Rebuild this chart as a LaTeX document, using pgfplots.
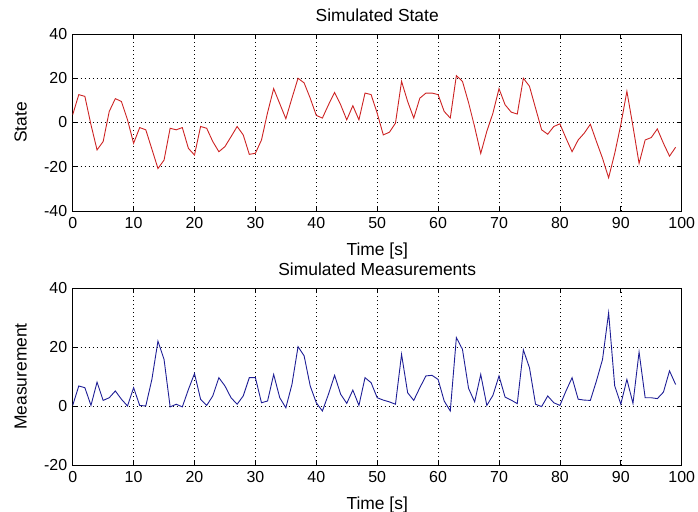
\documentclass[border=0pt]{standalone}
\usepackage{fontspec}
\setmainfont{Liberation Sans}
\usepackage{pgfplots}
\pgfplotsset{compat=1.18}
\definecolor{mred}{RGB}{205,35,35}
\definecolor{mblue}{RGB}{30,30,150}

\pgfplotstableread{
t state
0 3.5
1 12.6
2 11.8
3 -1
4 -12.4
5 -8.6
6 5
7 10.8
8 9.5
9 1.2
10 -9.4
11 -2.3
12 -3.3
13 -12
14 -20.8
15 -17
16 -2.6
17 -3.3
18 -2.3
19 -11.7
20 -14.7
21 -1.8
22 -2.6
23 -8.6
24 -13.2
25 -10.9
26 -6.4
27 -1.8
28 -5.6
29 -14.4
30 -13.9
31 -7.9
32 4.5
33 15.3
34 8.5
35 1.7
36 11
37 20
38 17.9
39 11
40 3.2
41 2
42 8
43 13.6
44 8
45 1.2
46 7.6
47 1.2
48 13.3
49 12.6
50 4.2
51 -5.6
52 -4.4
53 -0.3
54 18.6
55 9.5
56 2
57 11
58 13.3
59 13.3
60 12.6
61 5
62 2
63 21.2
64 18.6
65 9
66 -2
67 -14
68 -4
69 4.2
70 15.3
71 8
72 4.7
73 3.8
74 20
75 16.4
76 6.5
77 -3.3
78 -5.3
79 -1.8
80 -0.6
81 -7.1
82 -13.2
83 -7.9
84 -4.8
85 -0.8
86 -8.6
87 -16.2
88 -25
89 -14
90 -1
91 14.1
92 -1.8
93 -18.5
94 -7.9
95 -6.8
96 -2.9
97 -9.4
98 -15.2
99 -11.2
}\statetable

\pgfplotstableread{
t meas
0 0.2
1 6.8
2 6.2
3 0.2
4 8.1
5 1.9
6 2.8
7 5.1
8 2.3
9 0
10 6.2
11 0.2
12 0
13 9
14 22
15 15.8
16 -0.3
17 0.6
18 -0.3
19 5.6
20 11
21 2.3
22 0.2
23 3.4
24 9.6
25 6.8
26 2.8
27 0.6
28 3.4
29 9.6
30 9.6
31 1.1
32 1.7
33 10.7
34 2.8
35 -0.6
36 7.3
37 20.1
38 17
39 6.8
40 1.1
41 -1.7
42 4
43 10.4
44 4
45 0.9
46 5.4
47 0.2
48 9.6
49 7.9
50 2.8
51 2
52 1.4
53 0.6
54 17.5
55 4.5
56 1.9
57 6.2
58 10.2
59 10.4
60 9
61 1.7
62 -1.7
63 23.2
64 19.2
65 6
66 1.4
67 10.7
68 0.2
69 3.6
70 10.2
71 3
72 2
73 0.8
74 19
75 13
76 0.6
77 -0.2
78 3.4
79 1.1
80 0.2
81 5.1
82 9.6
83 2.3
84 2
85 1.9
86 8.5
87 15.8
88 31.6
89 6.8
90 0.6
91 9
92 0.9
93 18.3
94 2.8
95 2.8
96 2.5
97 4.7
98 11.9
99 7.3
}\meastable

\pgfplotsset{
  mstyle/.style={
    scale only axis, width=609bp, height=177bp,
    xmin=0, xmax=100, xtick={0,10,...,100},
    grid=major,
    major grid style={black, line width=0.6bp, dash pattern=on 0.8bp off 3.2bp},
    axis line style={black, line width=0.7bp},
    tick style={black, line width=0.7bp},
    tick align=inside, major tick length=5bp,
    xtick pos=both, ytick pos=both,
    ticklabel style={font=\fontsize{16}{18}\selectfont},
    xticklabel style={yshift=-2.5bp},
    yticklabel style={xshift=-2bp},
    /pgf/number format/assume math mode=true,
    label style={font=\fontsize{17.5}{20}\selectfont},
    title style={font=\fontsize{17.5}{20}\selectfont,
      at={(axis description cs:0.5,1)}, anchor=center, yshift=12.5bp},
    xlabel={Time [s]},
    xlabel style={at={(axis description cs:0.5,0)}, anchor=center, yshift=-40bp},
    ylabel style={at={(axis description cs:0,0.5)}, anchor=center, yshift=52bp},
  }
}

\begin{document}
\begin{tikzpicture}
\useasboundingbox (-72.7bp,-301bp) rectangle (625.3bp,211bp);
\begin{axis}[mstyle, at={(0,0)}, anchor=south west,
  ymin=-40, ymax=40, ytick={-40,-20,0,20,40},
  title={Simulated State}, ylabel={State}]
\addplot[mred, line width=0.9bp] table[x=t, y=state] {\statetable};
\end{axis}
\begin{axis}[mstyle, at={(0,-254bp)}, anchor=south west,
  ymin=-20, ymax=40, ytick={-20,0,20,40},
  title={Simulated Measurements}, ylabel={Measurement}]
\addplot[mblue, line width=0.9bp] table[x=t, y=meas] {\meastable};
\end{axis}
\end{tikzpicture}
\end{document}
